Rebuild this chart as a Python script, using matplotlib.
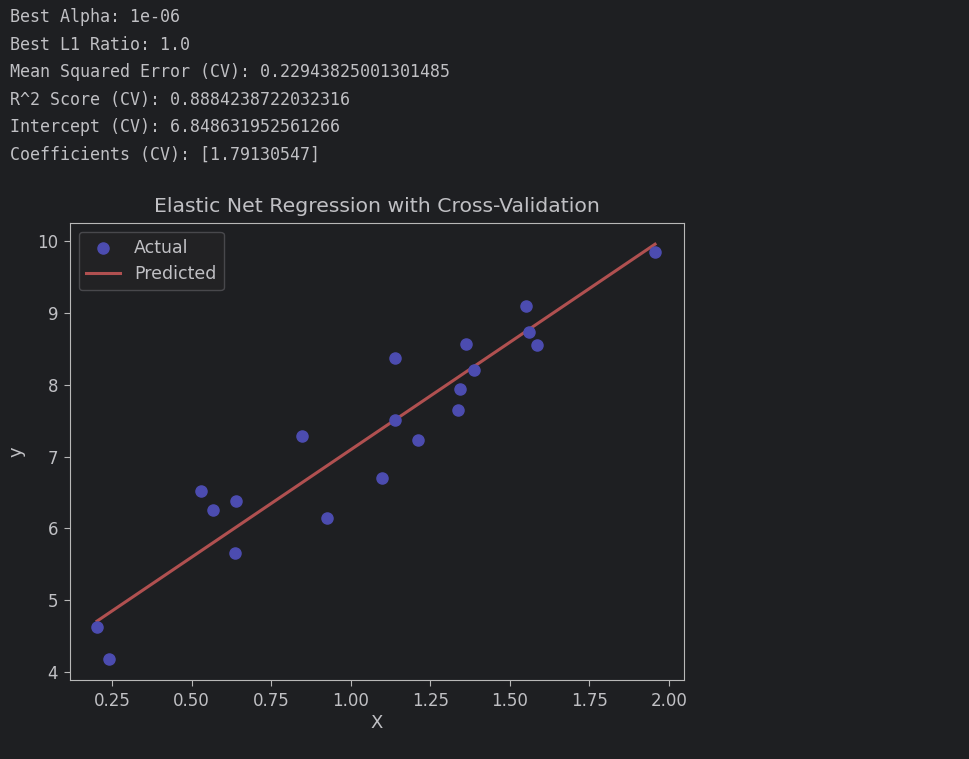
import matplotlib
matplotlib.use("Agg")
import matplotlib.pyplot as plt
import numpy as np

# console output printed above the plot
console_lines = [
    "Best Alpha: 1e-06",
    "Best L1 Ratio: 1.0",
    "Mean Squared Error (CV): 0.22943825001301485",
    "R^2 Score (CV): 0.8884238722032316",
    "Intercept (CV): 6.848631952561266",
    "Coefficients (CV): [1.79130547]",
]

# actual points
x_actual = [0.203, 0.241, 0.530, 0.567, 0.640, 0.636, 0.847, 0.925, 1.098, 1.139,
            1.139, 1.211, 1.337, 1.343, 1.362, 1.387, 1.551, 1.560, 1.585, 1.956]
y_actual = [4.63, 4.18, 6.52, 6.26, 6.38, 5.66, 7.29, 6.14, 6.70, 8.37,
            7.51, 7.23, 7.65, 7.94, 8.57, 8.20, 9.10, 8.73, 8.55, 9.85]

# predicted line end points
x_pred = [0.203, 1.956]
y_pred = [4.71, 9.955]

bg = "#1e1f22"
fg = "#c0c0c4"
axis_col = "#b8b8b8"

fig = plt.figure(figsize=(9.69, 7.59), dpi=100, facecolor=bg)

line_y = [17, 45, 72, 100, 127, 155]
for txt, py in zip(console_lines, line_y):
    fig.text(10 / 969, 1 - py / 759, txt, color=fg, fontsize=12,
             family="DejaVu Sans Mono", va="center", ha="left")

ax = fig.add_axes([70 / 969, 1 - 680 / 759, 614 / 969, 457 / 759])
ax.set_facecolor(bg)
ax.scatter(x_actual, y_actual, color="#4c4cb0", s=64, label="Actual", zorder=3)
ax.plot(x_pred, y_pred, color="#b05050", linewidth=2.2, label="Predicted", zorder=2)

ax.set_xlim(0.118, 2.047)
ax.set_ylim(3.89, 10.25)
ax.set_xticks([0.25, 0.5, 0.75, 1.0, 1.25, 1.5, 1.75, 2.0])
ax.set_yticks([4, 5, 6, 7, 8, 9, 10])

for s in ax.spines.values():
    s.set_color(axis_col)
ax.tick_params(colors=axis_col, labelcolor=fg, labelsize=12, length=4.5, pad=4)

ax.set_title("Elastic Net Regression with Cross-Validation", color=fg, fontsize=14.7, pad=8)
ax.set_xlabel("X", color=fg, fontsize=13, labelpad=3)
ax.set_ylabel("y", color=fg, fontsize=13, labelpad=8)

leg = ax.legend(loc="upper left", fontsize=12.5, facecolor="#222224",
                edgecolor="#48484c", framealpha=1)
for t in leg.get_texts():
    t.set_color(fg)

fig.savefig("out.png", dpi=100, facecolor=bg)
